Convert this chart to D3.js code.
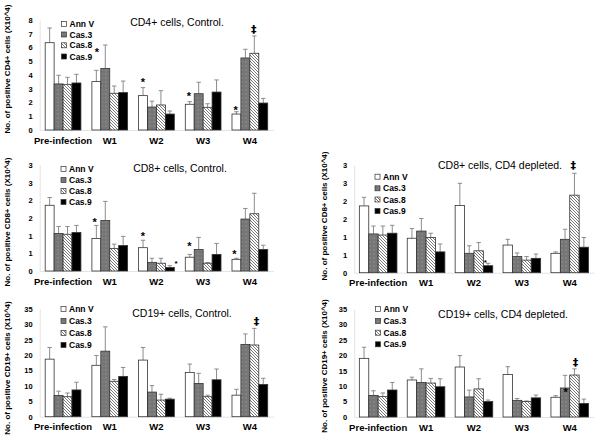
<!DOCTYPE html>
<html><head><meta charset="utf-8">
<script src="https://cdn.jsdelivr.net/npm/d3@7"></script>
<style>body{margin:0;background:#fff}svg{display:block}text{font-family:"Liberation Sans",Arial,sans-serif}</style>
</head><body><svg id="c" width="600" height="441"></svg>
<script>
const groups = ["Pre-infection","W1","W2","W3","W4"];
const seriesNames = ["Ann V","Cas.3","Cas.8","Cas.9"];

// CD4+ cells, Control.
const cd4CtrlMean = [[6.35,3.52,2.5,1.87,1.16],[3.35,4.48,1.67,2.64,5.24],[3.32,2.67,1.82,1.65,5.58],[3.42,2.72,1.16,2.76,1.96]];
const cd4CtrlErr  = [[1.07,0.82,0.58,0.19,0.17],[0.63,1.7,0.43,0.83,0.63],[0.51,0.53,1.04,0.26,1.26],[0.63,0.84,0.22,0.88,0.34]];
const cd4CtrlMarks = [["*",1,0.56,5.82],["*",2,0.48,3.64],["*",3,0.4,2.67],["*",4,0.42,1.62],["‡",4,2.44,7.32]];
const cd4Ticks = [0,1,2,3,4,5,6,7,8];
const cd4TickLabels = ["0","1","2","3","4","5","6","7","8"];

// CD8+ cells, Control.
const cd8CtrlMean = [[1.86,0.92,0.66,0.39,0.33],[1.06,1.43,0.245,0.61,1.47],[1.04,0.64,0.22,0.22,1.62],[1.09,0.72,0.10,0.47,0.61]];
const cd8CtrlErr  = [[0.22,0.37,0.21,0.08,0.03],[0.2,0.54,0.115,0.34,0.3],[0.22,0.12,0.14,0.02,0.58],[0.2,0.26,0.05,0.31,0.12]];
const cd8CtrlMarks = [["*",1,0.3,1.44],["*",2,0.48,1.05],["*s",2,4.2,0.26],["*",3,0.45,0.76],["*",4,0.26,0.54]];
const cd8Ticks = [0,0.5,1,1.5,2,2.5,3];
const cd8TickLabels = ["0","1","1","2","2","3","3"];

// CD19+ cells, Control.
const cd19CtrlMean = [[18.7,16.7,18.4,14.4,7.0],[6.9,21.3,8.0,10.8,23.5],[6.5,11.5,5.4,6.5,23.3],[8.7,13.1,5.7,12.0,10.5]];
const cd19CtrlErr  = [[3.8,3.2,4.1,2.7,1.9],[1.4,7.9,2.1,3.3,3.4],[1.2,0.6,1.9,0.5,5.4],[2.5,2.9,0.3,3.5,2.0]];
const cd19CtrlMarks = [["‡",4,2.74,30.9]];
const cd19Ticks = [0,5,10,15,20,25,30,35];
const cd19TickLabels = ["0","5","10","15","20","25","30","35"];

// CD8+ cells, CD4 depleted.
const cd8DeplMean = [[1.86,0.96,1.87,0.77,0.54],[1.08,1.16,0.54,0.45,0.93],[1.05,0.98,0.61,0.35,2.16],[1.10,0.58,0.195,0.40,0.71]];
const cd8DeplErr  = [[0.24,0.27,0.62,0.16,0.04],[0.22,0.35,0.21,0.1,0.28],[0.25,0.12,0.23,0.1,0.61],[0.22,0.22,0.065,0.12,0.27]];
const cd8DeplMarks = [["*s",2,3.2,0.35],["‡",4,2.36,2.97]];

// CD19+ cells, CD4 depleted.
const cd19DeplMean = [[19.0,12.0,16.2,13.8,6.4],[7.0,11.2,6.5,5.4,9.4],[6.6,11.0,9.1,5.0,13.6],[8.75,9.8,5.0,6.2,4.4]];
const cd19DeplErr  = [[3.6,0.9,3.7,2.5,0.5],[1.5,4.4,2.2,0.6,4.1],[1.2,1.5,3.3,0.2,2.0],[2.45,2.6,0.5,0.9,1.4]];
const cd19DeplMarks = [["*",4,1.55,8.8],["‡",4,2.6,17.6]];

const panels = [
  {title:"CD4+ cells, Control.", ytitle:"No. of positive CD4+ cells (X10^4)", mean:cd4CtrlMean, err:cd4CtrlErr, marks:cd4CtrlMarks, ticks:cd4Ticks, tl:cd4TickLabels,
   x0:39.7, x1:273.2, pad:0.235, y0:130, y1:20, ymax:8, tx:177, ty:26, ytx:7, yty:69, lx:61.5, ly:[24,34.5,45.3,56.5]},
  {title:"CD8+ cells, Control.", ytitle:"No. of positive CD8+ cells (X10^4)", mean:cd8CtrlMean, err:cd8CtrlErr, marks:cd8CtrlMarks, ticks:cd8Ticks, tl:cd8TickLabels,
   x0:39.7, x1:273.2, pad:0.235, y0:271, y1:165, ymax:3, tx:180, ty:172, ytx:7, yty:222, lx:61, ly:[169,180,191,202]},
  {title:"CD19+ cells, Control.", ytitle:"No. of positive CD19+ cells (X10^4)", mean:cd19CtrlMean, err:cd19CtrlErr, marks:cd19CtrlMarks, ticks:cd19Ticks, tl:cd19TickLabels,
   x0:39.7, x1:273.2, pad:0.235, y0:416.7, y1:309, ymax:35, tx:182, ty:316.7, ytx:7, yty:368, lx:61, ly:[309,321,333,345]},
  {title:"CD8+ cells, CD4 depleted.", ytitle:"No. of positive CD8+ cells (X10^4)", mean:cd8DeplMean, err:cd8DeplErr, marks:cd8DeplMarks, ticks:cd8Ticks, tl:cd8TickLabels,
   x0:354.2, x1:593.7, pad:0.215, y0:272.7, y1:165, ymax:3, tx:500, ty:169, ytx:324, yty:216, lx:375, ly:[176.7,188.3,199.5,211]},
  {title:"CD19+ cells, CD4 depleted.", ytitle:"No. of positive CD19+ cells (X10^4)", mean:cd19DeplMean, err:cd19DeplErr, marks:cd19DeplMarks, ticks:cd19Ticks, tl:cd19TickLabels,
   x0:354.2, x1:593.7, pad:0.215, y0:417, y1:309, ymax:35, tx:503, ty:317.7, ytx:324, yty:366, lx:375.5, ly:[309,321,332.7,344.3]}
];

const svg = d3.select("#c");
const defs = svg.append("defs");
const dots = defs.append("pattern").attr("id","dots").attr("patternUnits","userSpaceOnUse").attr("width",4).attr("height",4);
dots.append("rect").attr("width",4).attr("height",4).attr("fill","#767676");
dots.append("rect").attr("x",1.5).attr("y",1.5).attr("width",1).attr("height",1).attr("fill","#a8a8a8");
const hatch = defs.append("pattern").attr("id","hatch").attr("patternUnits","userSpaceOnUse").attr("width",3).attr("height",3);
hatch.append("rect").attr("width",3).attr("height",3).attr("fill","#fff");
hatch.append("path").attr("d","M0,0L3,3M-1,2L1,4M2,-1L4,1").attr("stroke","#6a6a6a").attr("stroke-width",0.9);
const fills = ["#fff","url(#dots)","url(#hatch)","#000"];

panels.forEach(p=>{
  const g = svg.append("g");
  const x = d3.scaleBand().domain(groups).range([p.x0,p.x1]).paddingInner(p.pad).paddingOuter(p.pad/2);
  const xs = d3.scaleBand().domain(d3.range(4)).range([0,x.bandwidth()]);
  const y = d3.scaleLinear().domain([0,p.ymax]).range([p.y0,p.y1]);
  const bw = xs.bandwidth();

  // axes
  const ya = g.append("g").attr("transform",`translate(${p.x0},0)`)
    .call(d3.axisLeft(y).tickValues(p.ticks).tickFormat((d,i)=>p.tl[i]).tickSize(0).tickPadding(7));
  ya.select(".domain").attr("stroke","#e4e4e4");
  ya.selectAll("text").attr("font-size",7.5).attr("font-weight","bold").attr("fill","#000");
  const xa = g.append("g").attr("transform",`translate(0,${p.y0})`)
    .call(d3.axisBottom(x).tickSize(0).tickPadding(7));
  xa.select(".domain").attr("stroke","#e4e4e4");
  xa.selectAll("text").attr("font-size",9.5).attr("font-weight","bold").attr("fill","#000");

  // bars
  seriesNames.forEach((s,si)=>{
    const sg = g.append("g");
    sg.selectAll("path.err").data(groups).join("path").attr("class","err")
      .attr("d",(d,gi)=>{const cx=x(d)+xs(si)+bw/2, yt=y(p.mean[si][gi]+p.err[si][gi]), yb=y(p.mean[si][gi]);
        return `M${cx},${yb}V${yt}M${cx-2.2},${yt}H${cx+2.2}`;})
      .attr("stroke","#8c8c8c").attr("stroke-width",1).attr("fill","none");
    sg.selectAll("rect").data(groups).join("rect")
      .attr("x",d=>x(d)+xs(si)).attr("width",bw)
      .attr("y",(d,gi)=>y(p.mean[si][gi])).attr("height",(d,gi)=>p.y0-y(p.mean[si][gi]))
      .attr("fill",fills[si]).attr("stroke","#333").attr("stroke-width",0.8);
  });

  // significance marks
  p.marks.forEach(m=>{
    const [sym,gi,pos,val]=m;
    const cx = x(groups[gi]) + pos*bw;
    const small = sym==="*s";
    const dag = sym==="‡";
    const fs = dag?11:(small?8:11);
    const off = dag?0.3*fs:0.57*fs;
    g.append("text").attr("x",cx).attr("y",y(val)+off).attr("text-anchor","middle")
      .style("font-family",dag?"'DejaVu Sans'":"'Liberation Sans'")
      .attr("font-size",fs).attr("font-weight","bold").attr("fill","#000").text(small?"*":sym);
  });

  // title
  g.append("text").attr("x",p.tx).attr("y",p.ty).attr("text-anchor","middle").attr("font-size",10.5).text(p.title);
  // y title
  g.append("text").attr("transform",`translate(${p.ytx+3},${p.yty}) rotate(-90)`).attr("text-anchor","middle")
    .attr("font-size",8).attr("font-weight","bold").text(p.ytitle);

  // legend
  seriesNames.forEach((s,si)=>{
    g.append("rect").attr("x",p.lx).attr("y",p.ly[si]-2.5).attr("width",5).attr("height",5)
      .attr("fill",fills[si]).attr("stroke","#333").attr("stroke-width",0.7);
    g.append("text").attr("x",p.lx+8).attr("y",p.ly[si]+3).attr("font-size",8.5).attr("font-weight","bold").text(s);
  });
});
</script></body></html>
